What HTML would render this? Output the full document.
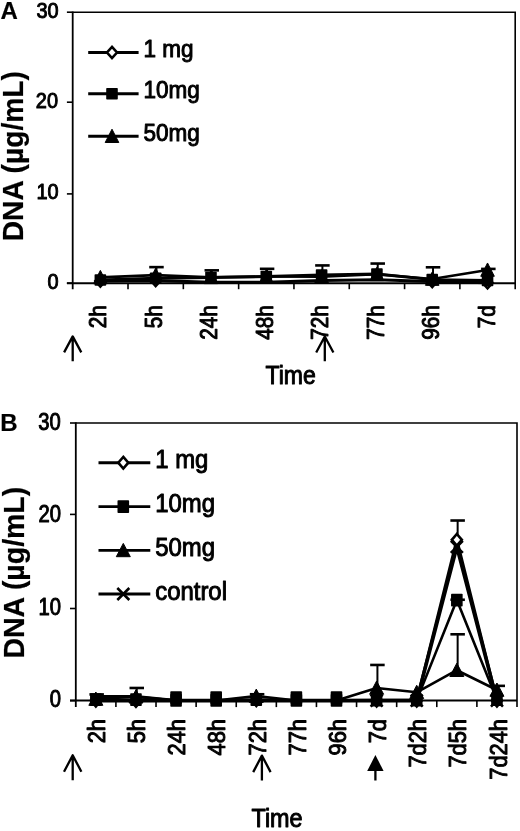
<!DOCTYPE html><html><head><meta charset="utf-8"><title>DNA release</title><style>html,body{margin:0;padding:0;background:#fff;}svg{display:block;}text{font-family:"Liberation Sans", Arial, Helvetica, sans-serif;fill:#000;stroke:#000;stroke-width:1.0px;stroke-linejoin:round;}text.b{stroke-width:0.2px;}</style></head><body>
<svg width="520" height="831" viewBox="0 0 520 831">
<rect width="520" height="831" fill="#fff"/>
<g stroke="#000" fill="none">
<path d="M72.70 12.20H515.20V289.20" stroke-width="1.6" stroke-linejoin="miter"/>
<line x1="72.70" y1="11.40" x2="72.70" y2="289.20" stroke-width="1.8" stroke-linecap="butt"/>
<line x1="66.90" y1="283.20" x2="515.20" y2="283.20" stroke-width="2.0" stroke-linecap="butt"/>
<line x1="66.90" y1="283.20" x2="72.70" y2="283.20" stroke-width="1.6" stroke-linecap="butt"/>
<line x1="66.90" y1="193.90" x2="72.70" y2="193.90" stroke-width="1.6" stroke-linecap="butt"/>
<line x1="66.90" y1="102.20" x2="72.70" y2="102.20" stroke-width="1.6" stroke-linecap="butt"/>
<line x1="66.90" y1="12.20" x2="72.70" y2="12.20" stroke-width="1.6" stroke-linecap="butt"/>
<line x1="128.01" y1="283.20" x2="128.01" y2="289.20" stroke-width="1.6" stroke-linecap="butt"/>
<line x1="183.33" y1="283.20" x2="183.33" y2="289.20" stroke-width="1.6" stroke-linecap="butt"/>
<line x1="238.64" y1="283.20" x2="238.64" y2="289.20" stroke-width="1.6" stroke-linecap="butt"/>
<line x1="293.95" y1="283.20" x2="293.95" y2="289.20" stroke-width="1.6" stroke-linecap="butt"/>
<line x1="349.26" y1="283.20" x2="349.26" y2="289.20" stroke-width="1.6" stroke-linecap="butt"/>
<line x1="404.58" y1="283.20" x2="404.58" y2="289.20" stroke-width="1.6" stroke-linecap="butt"/>
<line x1="459.89" y1="283.20" x2="459.89" y2="289.20" stroke-width="1.6" stroke-linecap="butt"/>
</g>
<text transform="translate(58.60 289.40) scale(0.89 1)" font-size="22.4" font-weight="normal" text-anchor="end">0</text>
<text transform="translate(58.70 199.20) scale(0.89 1)" font-size="22.4" font-weight="normal" text-anchor="end">10</text>
<text transform="translate(58.00 108.30) scale(0.89 1)" font-size="22.4" font-weight="normal" text-anchor="end">20</text>
<text transform="translate(58.60 18.30) scale(0.89 1)" font-size="22.4" font-weight="normal" text-anchor="end">30</text>
<text transform="translate(106.00 305.20) rotate(-90) scale(0.9 1)" font-size="23" font-weight="normal" text-anchor="end">2h</text>
<text transform="translate(161.52 305.20) rotate(-90) scale(0.9 1)" font-size="23" font-weight="normal" text-anchor="end">5h</text>
<text transform="translate(217.04 305.20) rotate(-90) scale(0.9 1)" font-size="23" font-weight="normal" text-anchor="end">24h</text>
<text transform="translate(272.56 305.20) rotate(-90) scale(0.9 1)" font-size="23" font-weight="normal" text-anchor="end">48h</text>
<text transform="translate(328.08 305.20) rotate(-90) scale(0.9 1)" font-size="23" font-weight="normal" text-anchor="end">72h</text>
<text transform="translate(383.60 305.20) rotate(-90) scale(0.9 1)" font-size="23" font-weight="normal" text-anchor="end">77h</text>
<text transform="translate(439.12 305.20) rotate(-90) scale(0.9 1)" font-size="23" font-weight="normal" text-anchor="end">96h</text>
<text transform="translate(494.64 305.20) rotate(-90) scale(0.9 1)" font-size="23" font-weight="normal" text-anchor="end">7d</text>
<text class="b" transform="translate(23.20 156.20) rotate(-90) scale(0.965 1)" font-size="29.2" font-weight="bold" text-anchor="middle">DNA (&#181;g/mL)</text>
<text class="b" transform="translate(0.50 18.80)" font-size="24" font-weight="bold" text-anchor="start">A</text>
<text transform="translate(265.50 383.90) scale(0.92 1)" font-size="25" font-weight="normal" text-anchor="start">Time</text>
<g stroke="#000">
<line x1="88.20" y1="52.50" x2="138.60" y2="52.50" stroke-width="2.9" stroke-linecap="butt"/>
</g>
<g stroke="#000">
<path d="M112.00 46.90L117.00 52.50L112.00 58.10L107.00 52.50Z" fill="#fff" stroke-width="2.6" stroke-linejoin="miter"/>
</g>
<text transform="translate(143.50 56.90) scale(0.92 1)" font-size="24.5" font-weight="normal" text-anchor="start">1 mg</text>
<g stroke="#000">
<line x1="88.20" y1="93.80" x2="138.60" y2="93.80" stroke-width="2.9" stroke-linecap="butt"/>
</g>
<g stroke="#000">
<rect x="106.20" y="88.00" width="11.60" height="11.60" rx="0.8" fill="#000" stroke="none"/>
</g>
<text transform="translate(143.50 98.20) scale(0.92 1)" font-size="24.5" font-weight="normal" text-anchor="start">10mg</text>
<g stroke="#000">
<line x1="88.20" y1="136.20" x2="138.60" y2="136.20" stroke-width="2.9" stroke-linecap="butt"/>
</g>
<g stroke="#000">
<path d="M112.00 129.20L118.80 142.50L105.20 142.50Z" fill="#000" stroke="#000" stroke-width="1" stroke-linejoin="round"/>
</g>
<text transform="translate(143.50 140.60) scale(0.92 1)" font-size="24.5" font-weight="normal" text-anchor="start">50mg</text>
<g stroke="#000" fill="none" stroke-linejoin="round">
<path d="M100.36 280.97L155.67 280.52L210.98 282.31L266.29 282.31L321.61 280.52L376.92 279.63L432.23 281.41L487.54 282.75" stroke-width="3.0"/>
<path d="M100.36 279.99L155.67 278.29L210.98 277.48L266.29 276.50L321.61 274.98L376.92 274.09L432.23 279.63L487.54 280.52" stroke-width="3.0"/>
<path d="M100.36 277.40L155.67 275.16L210.98 277.31L266.29 276.50L321.61 276.59L376.92 274.27L432.23 279.00L487.54 269.98" stroke-width="2.6"/>
<line x1="211.78" y1="277.48" x2="211.78" y2="270.34" stroke-width="2.0" stroke-linecap="butt"/>
<line x1="204.53" y1="270.34" x2="219.03" y2="270.34" stroke-width="2.6" stroke-linecap="butt"/>
<line x1="267.09" y1="276.50" x2="267.09" y2="268.82" stroke-width="2.0" stroke-linecap="butt"/>
<line x1="259.84" y1="268.82" x2="274.34" y2="268.82" stroke-width="2.6" stroke-linecap="butt"/>
<line x1="433.03" y1="279.63" x2="433.03" y2="267.30" stroke-width="2.0" stroke-linecap="butt"/>
<line x1="425.78" y1="267.30" x2="440.28" y2="267.30" stroke-width="2.6" stroke-linecap="butt"/>
<line x1="488.34" y1="280.52" x2="488.34" y2="268.91" stroke-width="2.0" stroke-linecap="butt"/>
<line x1="481.09" y1="268.91" x2="495.59" y2="268.91" stroke-width="2.6" stroke-linecap="butt"/>
<line x1="156.47" y1="275.16" x2="156.47" y2="267.13" stroke-width="2.0" stroke-linecap="butt"/>
<line x1="149.22" y1="267.13" x2="163.72" y2="267.13" stroke-width="2.6" stroke-linecap="butt"/>
<line x1="322.41" y1="276.59" x2="322.41" y2="265.43" stroke-width="2.0" stroke-linecap="butt"/>
<line x1="315.16" y1="265.43" x2="329.66" y2="265.43" stroke-width="2.6" stroke-linecap="butt"/>
<line x1="377.72" y1="274.27" x2="377.72" y2="263.55" stroke-width="2.0" stroke-linecap="butt"/>
<line x1="370.47" y1="263.55" x2="384.97" y2="263.55" stroke-width="2.6" stroke-linecap="butt"/>
<path d="M100.36 275.37L105.36 280.97L100.36 286.57L95.36 280.97Z" fill="#fff" stroke-width="2.6" stroke-linejoin="miter"/>
<path d="M155.67 274.92L160.67 280.52L155.67 286.12L150.67 280.52Z" fill="#fff" stroke-width="2.6" stroke-linejoin="miter"/>
<path d="M432.23 275.81L437.23 281.41L432.23 287.01L427.23 281.41Z" fill="#fff" stroke-width="2.6" stroke-linejoin="miter"/>
<path d="M487.54 277.15L492.54 282.75L487.54 288.35L482.54 282.75Z" fill="#fff" stroke-width="2.6" stroke-linejoin="miter"/>
<path d="M100.36 270.40L107.16 283.70L93.56 283.70Z" fill="#000" stroke="#000" stroke-width="1" stroke-linejoin="round"/>
<path d="M155.67 268.16L162.47 281.46L148.87 281.46Z" fill="#000" stroke="#000" stroke-width="1" stroke-linejoin="round"/>
<path d="M210.98 270.31L217.78 283.61L204.18 283.61Z" fill="#000" stroke="#000" stroke-width="1" stroke-linejoin="round"/>
<path d="M266.29 269.50L273.09 282.80L259.49 282.80Z" fill="#000" stroke="#000" stroke-width="1" stroke-linejoin="round"/>
<path d="M321.61 269.59L328.41 282.89L314.81 282.89Z" fill="#000" stroke="#000" stroke-width="1" stroke-linejoin="round"/>
<path d="M376.92 267.27L383.72 280.57L370.12 280.57Z" fill="#000" stroke="#000" stroke-width="1" stroke-linejoin="round"/>
<path d="M432.23 272.00L439.03 285.30L425.43 285.30Z" fill="#000" stroke="#000" stroke-width="1" stroke-linejoin="round"/>
<path d="M487.54 262.98L494.34 276.28L480.74 276.28Z" fill="#000" stroke="#000" stroke-width="1" stroke-linejoin="round"/>
<rect x="94.56" y="274.19" width="11.60" height="11.60" rx="0.8" fill="#000" stroke="none"/>
<rect x="149.87" y="272.49" width="11.60" height="11.60" rx="0.8" fill="#000" stroke="none"/>
<rect x="205.18" y="271.68" width="11.60" height="11.60" rx="0.8" fill="#000" stroke="none"/>
<rect x="260.49" y="270.70" width="11.60" height="11.60" rx="0.8" fill="#000" stroke="none"/>
<rect x="315.81" y="269.18" width="11.60" height="11.60" rx="0.8" fill="#000" stroke="none"/>
<rect x="371.12" y="268.29" width="11.60" height="11.60" rx="0.8" fill="#000" stroke="none"/>
<rect x="426.43" y="273.83" width="11.60" height="11.60" rx="0.8" fill="#000" stroke="none"/>
<rect x="481.74" y="274.72" width="11.60" height="11.60" rx="0.8" fill="#000" stroke="none"/>
</g>
<path d="M64.10 352.40L72.70 336.40L81.30 352.40M72.70 337.40L72.70 361.20" fill="none" stroke="#000" stroke-width="2.3" stroke-linejoin="round"/>
<path d="M316.20 352.50L324.80 336.50L333.40 352.50M324.80 337.50L324.80 361.30" fill="none" stroke="#000" stroke-width="2.3" stroke-linejoin="round"/>
<g stroke="#000" fill="none">
<path d="M75.80 423.00H517.00V707.10" stroke-width="1.6" stroke-linejoin="miter"/>
<line x1="75.80" y1="422.20" x2="75.80" y2="707.10" stroke-width="1.8" stroke-linecap="butt"/>
<line x1="70.00" y1="700.60" x2="517.00" y2="700.60" stroke-width="2.0" stroke-linecap="butt"/>
<line x1="70.00" y1="700.60" x2="75.80" y2="700.60" stroke-width="1.6" stroke-linecap="butt"/>
<line x1="70.00" y1="608.50" x2="75.80" y2="608.50" stroke-width="1.6" stroke-linecap="butt"/>
<line x1="70.00" y1="514.40" x2="75.80" y2="514.40" stroke-width="1.6" stroke-linecap="butt"/>
<line x1="70.00" y1="423.00" x2="75.80" y2="423.00" stroke-width="1.6" stroke-linecap="butt"/>
<line x1="115.91" y1="700.60" x2="115.91" y2="707.10" stroke-width="1.6" stroke-linecap="butt"/>
<line x1="156.02" y1="700.60" x2="156.02" y2="707.10" stroke-width="1.6" stroke-linecap="butt"/>
<line x1="196.13" y1="700.60" x2="196.13" y2="707.10" stroke-width="1.6" stroke-linecap="butt"/>
<line x1="236.24" y1="700.60" x2="236.24" y2="707.10" stroke-width="1.6" stroke-linecap="butt"/>
<line x1="276.35" y1="700.60" x2="276.35" y2="707.10" stroke-width="1.6" stroke-linecap="butt"/>
<line x1="316.45" y1="700.60" x2="316.45" y2="707.10" stroke-width="1.6" stroke-linecap="butt"/>
<line x1="356.56" y1="700.60" x2="356.56" y2="707.10" stroke-width="1.6" stroke-linecap="butt"/>
<line x1="396.67" y1="700.60" x2="396.67" y2="707.10" stroke-width="1.6" stroke-linecap="butt"/>
<line x1="436.78" y1="700.60" x2="436.78" y2="707.10" stroke-width="1.6" stroke-linecap="butt"/>
<line x1="476.89" y1="700.60" x2="476.89" y2="707.10" stroke-width="1.6" stroke-linecap="butt"/>
</g>
<text transform="translate(61.10 706.80) scale(0.86 1)" font-size="23.5" font-weight="normal" text-anchor="end">0</text>
<text transform="translate(61.10 615.40) scale(0.86 1)" font-size="23.5" font-weight="normal" text-anchor="end">10</text>
<text transform="translate(60.90 521.60) scale(0.86 1)" font-size="23.5" font-weight="normal" text-anchor="end">20</text>
<text transform="translate(60.70 429.90) scale(0.86 1)" font-size="23.5" font-weight="normal" text-anchor="end">30</text>
<text transform="translate(104.75 719.00) rotate(-90) scale(0.91 1)" font-size="24" font-weight="normal" text-anchor="end">2h</text>
<text transform="translate(144.94 719.00) rotate(-90) scale(0.91 1)" font-size="24" font-weight="normal" text-anchor="end">5h</text>
<text transform="translate(185.13 719.00) rotate(-90) scale(0.91 1)" font-size="24" font-weight="normal" text-anchor="end">24h</text>
<text transform="translate(225.32 719.00) rotate(-90) scale(0.91 1)" font-size="24" font-weight="normal" text-anchor="end">48h</text>
<text transform="translate(265.51 719.00) rotate(-90) scale(0.91 1)" font-size="24" font-weight="normal" text-anchor="end">72h</text>
<text transform="translate(305.70 719.00) rotate(-90) scale(0.91 1)" font-size="24" font-weight="normal" text-anchor="end">77h</text>
<text transform="translate(345.89 719.00) rotate(-90) scale(0.91 1)" font-size="24" font-weight="normal" text-anchor="end">96h</text>
<text transform="translate(386.08 719.00) rotate(-90) scale(0.91 1)" font-size="24" font-weight="normal" text-anchor="end">7d</text>
<text transform="translate(426.27 719.00) rotate(-90) scale(0.91 1)" font-size="24" font-weight="normal" text-anchor="end">7d2h</text>
<text transform="translate(466.46 719.00) rotate(-90) scale(0.91 1)" font-size="24" font-weight="normal" text-anchor="end">7d5h</text>
<text transform="translate(506.65 719.00) rotate(-90) scale(0.91 1)" font-size="24" font-weight="normal" text-anchor="end">7d24h</text>
<text class="b" transform="translate(23.90 572.70) rotate(-90) scale(0.975 1)" font-size="29.2" font-weight="bold" text-anchor="middle">DNA (&#181;g/mL)</text>
<text class="b" transform="translate(0.30 430.80)" font-size="24" font-weight="bold" text-anchor="start">B</text>
<text transform="translate(251.50 827.30) scale(0.9 1)" font-size="26" font-weight="normal" text-anchor="start">Time</text>
<g stroke="#000">
<line x1="98.50" y1="462.70" x2="150.30" y2="462.70" stroke-width="2.9" stroke-linecap="butt"/>
</g>
<g stroke="#000">
<path d="M123.30 456.90L128.30 462.70L123.30 468.50L118.30 462.70Z" fill="#fff" stroke-width="2.6" stroke-linejoin="miter"/>
</g>
<text transform="translate(155.20 468.30) scale(0.92 1)" font-size="26" font-weight="normal" text-anchor="start">1 mg</text>
<g stroke="#000">
<line x1="98.50" y1="506.60" x2="150.30" y2="506.60" stroke-width="2.9" stroke-linecap="butt"/>
</g>
<g stroke="#000">
<rect x="117.50" y="500.20" width="11.60" height="12.80" rx="0.8" fill="#000" stroke="none"/>
</g>
<text transform="translate(155.20 512.20) scale(0.92 1)" font-size="26" font-weight="normal" text-anchor="start">10mg</text>
<g stroke="#000">
<line x1="98.50" y1="550.40" x2="150.30" y2="550.40" stroke-width="2.9" stroke-linecap="butt"/>
</g>
<g stroke="#000">
<path d="M123.30 543.40L130.30 556.70L116.30 556.70Z" fill="#000" stroke="#000" stroke-width="1" stroke-linejoin="round"/>
</g>
<text transform="translate(155.20 556.00) scale(0.92 1)" font-size="26" font-weight="normal" text-anchor="start">50mg</text>
<g stroke="#000">
<line x1="98.50" y1="594.00" x2="150.30" y2="594.00" stroke-width="2.9" stroke-linecap="butt"/>
</g>
<g stroke="#000">
<path d="M117.30 588.00L129.30 600.00M129.30 588.00L117.30 600.00" fill="none" stroke-width="2.6"/>
</g>
<text transform="translate(155.20 599.60) scale(0.92 1)" font-size="26" font-weight="normal" text-anchor="start">control</text>
<g stroke="#000" fill="none" stroke-linejoin="round">
<path d="M95.85 696.46L135.96 696.46L176.07 700.60L216.18 700.60L256.29 700.14L296.40 700.60L336.51 700.60L376.62 700.60L416.73 700.60L456.84 539.81L496.95 700.60" stroke-width="3.0"/>
<path d="M95.85 699.68L135.96 699.68L176.07 700.42L216.18 700.42L256.29 699.68L296.40 700.42L336.51 700.42L376.62 700.14L416.73 700.14L456.84 600.03L496.95 699.68" stroke-width="2.6"/>
<path d="M95.85 699.03L135.96 696.73L176.07 700.42L216.18 700.42L256.29 696.09L296.40 700.42L336.51 700.42L376.62 687.98L416.73 692.31L456.84 670.21L496.95 690.01" stroke-width="2.6"/>
<path d="M95.85 700.60L135.96 700.60L176.07 700.60L216.18 700.60L256.29 700.60L296.40 700.60L336.51 700.60L376.62 700.60L416.73 700.60L456.84 546.86L496.95 700.60" stroke-width="3.6"/>
<path d="M95.85 699.68L135.96 699.68L176.07 697.65L216.18 697.65L256.29 699.68L296.40 697.65L336.51 697.65L376.62 699.68L416.73 699.68L456.84 699.68L496.95 699.68" stroke-width="0"/>
<path d="M95.85 700.60L135.96 701.06L176.07 700.60L216.18 700.60L256.29 700.60L296.40 700.60L336.51 700.60L376.62 700.60L416.73 700.60L456.84 700.60L496.95 700.60" stroke-width="0"/>
<line x1="457.64" y1="539.81" x2="457.64" y2="520.52" stroke-width="2.0" stroke-linecap="butt"/>
<line x1="450.39" y1="520.52" x2="464.89" y2="520.52" stroke-width="2.6" stroke-linecap="butt"/>
<line x1="457.64" y1="600.03" x2="457.64" y2="599.75" stroke-width="2.0" stroke-linecap="butt"/>
<line x1="450.39" y1="599.75" x2="464.89" y2="599.75" stroke-width="2.6" stroke-linecap="butt"/>
<line x1="96.65" y1="699.03" x2="96.65" y2="694.43" stroke-width="2.0" stroke-linecap="butt"/>
<line x1="89.40" y1="694.43" x2="103.90" y2="694.43" stroke-width="2.6" stroke-linecap="butt"/>
<line x1="136.76" y1="696.73" x2="136.76" y2="687.98" stroke-width="2.0" stroke-linecap="butt"/>
<line x1="129.51" y1="687.98" x2="144.01" y2="687.98" stroke-width="2.6" stroke-linecap="butt"/>
<line x1="257.09" y1="696.09" x2="257.09" y2="694.25" stroke-width="2.0" stroke-linecap="butt"/>
<line x1="249.84" y1="694.25" x2="264.34" y2="694.25" stroke-width="2.6" stroke-linecap="butt"/>
<line x1="377.42" y1="687.98" x2="377.42" y2="664.96" stroke-width="2.0" stroke-linecap="butt"/>
<line x1="370.17" y1="664.96" x2="384.67" y2="664.96" stroke-width="2.6" stroke-linecap="butt"/>
<line x1="457.64" y1="670.21" x2="457.64" y2="634.29" stroke-width="2.0" stroke-linecap="butt"/>
<line x1="450.39" y1="634.29" x2="464.89" y2="634.29" stroke-width="2.6" stroke-linecap="butt"/>
<line x1="497.75" y1="690.01" x2="497.75" y2="685.86" stroke-width="2.0" stroke-linecap="butt"/>
<line x1="490.50" y1="685.86" x2="505.00" y2="685.86" stroke-width="2.6" stroke-linecap="butt"/>
<path d="M370.62 694.60L382.62 706.60M382.62 694.60L370.62 706.60" fill="none" stroke-width="2.6"/>
<path d="M410.73 694.60L422.73 706.60M422.73 694.60L410.73 706.60" fill="none" stroke-width="2.6"/>
<path d="M450.84 540.86L462.84 552.86M462.84 540.86L450.84 552.86" fill="none" stroke-width="2.6"/>
<path d="M490.95 694.60L502.95 706.60M502.95 694.60L490.95 706.60" fill="none" stroke-width="2.6"/>
<path d="M256.29 694.34L261.29 700.14L256.29 705.94L251.29 700.14Z" fill="#fff" stroke-width="2.6" stroke-linejoin="miter"/>
<path d="M376.62 694.80L381.62 700.60L376.62 706.40L371.62 700.60Z" fill="#fff" stroke-width="2.6" stroke-linejoin="miter"/>
<path d="M416.73 694.80L421.73 700.60L416.73 706.40L411.73 700.60Z" fill="#fff" stroke-width="2.6" stroke-linejoin="miter"/>
<path d="M456.84 534.01L461.84 539.81L456.84 545.61L451.84 539.81Z" fill="#fff" stroke-width="2.6" stroke-linejoin="miter"/>
<path d="M496.95 694.80L501.95 700.60L496.95 706.40L491.95 700.60Z" fill="#fff" stroke-width="2.6" stroke-linejoin="miter"/>
<path d="M95.85 694.80L100.85 700.60L95.85 706.40L90.85 700.60Z" fill="#fff" stroke-width="2.6" stroke-linejoin="miter"/>
<path d="M135.96 695.26L140.96 701.06L135.96 706.86L130.96 701.06Z" fill="#fff" stroke-width="2.6" stroke-linejoin="miter"/>
<path d="M95.85 692.03L102.85 705.33L88.85 705.33Z" fill="#000" stroke="#000" stroke-width="1" stroke-linejoin="round"/>
<path d="M135.96 689.73L142.96 703.03L128.96 703.03Z" fill="#000" stroke="#000" stroke-width="1" stroke-linejoin="round"/>
<path d="M256.29 689.09L263.29 702.39L249.29 702.39Z" fill="#000" stroke="#000" stroke-width="1" stroke-linejoin="round"/>
<path d="M376.62 680.98L383.62 694.28L369.62 694.28Z" fill="#000" stroke="#000" stroke-width="1" stroke-linejoin="round"/>
<path d="M416.73 685.31L423.73 698.61L409.73 698.61Z" fill="#000" stroke="#000" stroke-width="1" stroke-linejoin="round"/>
<path d="M456.84 663.21L463.84 676.51L449.84 676.51Z" fill="#000" stroke="#000" stroke-width="1" stroke-linejoin="round"/>
<path d="M496.95 683.01L503.95 696.31L489.95 696.31Z" fill="#000" stroke="#000" stroke-width="1" stroke-linejoin="round"/>
<rect x="170.27" y="691.25" width="11.60" height="12.80" rx="0.8" fill="#000" stroke="none"/>
<rect x="210.38" y="691.25" width="11.60" height="12.80" rx="0.8" fill="#000" stroke="none"/>
<rect x="290.60" y="691.25" width="11.60" height="12.80" rx="0.8" fill="#000" stroke="none"/>
<rect x="330.71" y="691.25" width="11.60" height="12.80" rx="0.8" fill="#000" stroke="none"/>
<rect x="90.05" y="693.28" width="11.60" height="12.80" rx="0.8" fill="#000" stroke="none"/>
<rect x="130.16" y="693.28" width="11.60" height="12.80" rx="0.8" fill="#000" stroke="none"/>
<rect x="170.27" y="694.02" width="11.60" height="12.80" rx="0.8" fill="#000" stroke="none"/>
<rect x="210.38" y="694.02" width="11.60" height="12.80" rx="0.8" fill="#000" stroke="none"/>
<rect x="250.49" y="693.28" width="11.60" height="12.80" rx="0.8" fill="#000" stroke="none"/>
<rect x="290.60" y="694.02" width="11.60" height="12.80" rx="0.8" fill="#000" stroke="none"/>
<rect x="330.71" y="694.02" width="11.60" height="12.80" rx="0.8" fill="#000" stroke="none"/>
<rect x="370.82" y="693.74" width="11.60" height="12.80" rx="0.8" fill="#000" stroke="none"/>
<rect x="410.93" y="693.74" width="11.60" height="12.80" rx="0.8" fill="#000" stroke="none"/>
<rect x="451.04" y="593.63" width="11.60" height="12.80" rx="0.8" fill="#000" stroke="none"/>
<rect x="491.15" y="693.28" width="11.60" height="12.80" rx="0.8" fill="#000" stroke="none"/>
</g>
<path d="M64.00 771.80L72.70 755.30L81.40 771.80M72.70 756.30L72.70 780.30" fill="none" stroke="#000" stroke-width="2.3" stroke-linejoin="round"/>
<path d="M253.20 772.10L261.90 755.60L270.60 772.10M261.90 756.60L261.90 780.60" fill="none" stroke="#000" stroke-width="2.3" stroke-linejoin="round"/>
<path d="M375.40 755.00L383.60 771.00L367.20 771.00Z" fill="#000"/>
<path d="M375.40 770.00L375.40 780.50" stroke="#000" stroke-width="2.3"/>
</svg></body></html>
